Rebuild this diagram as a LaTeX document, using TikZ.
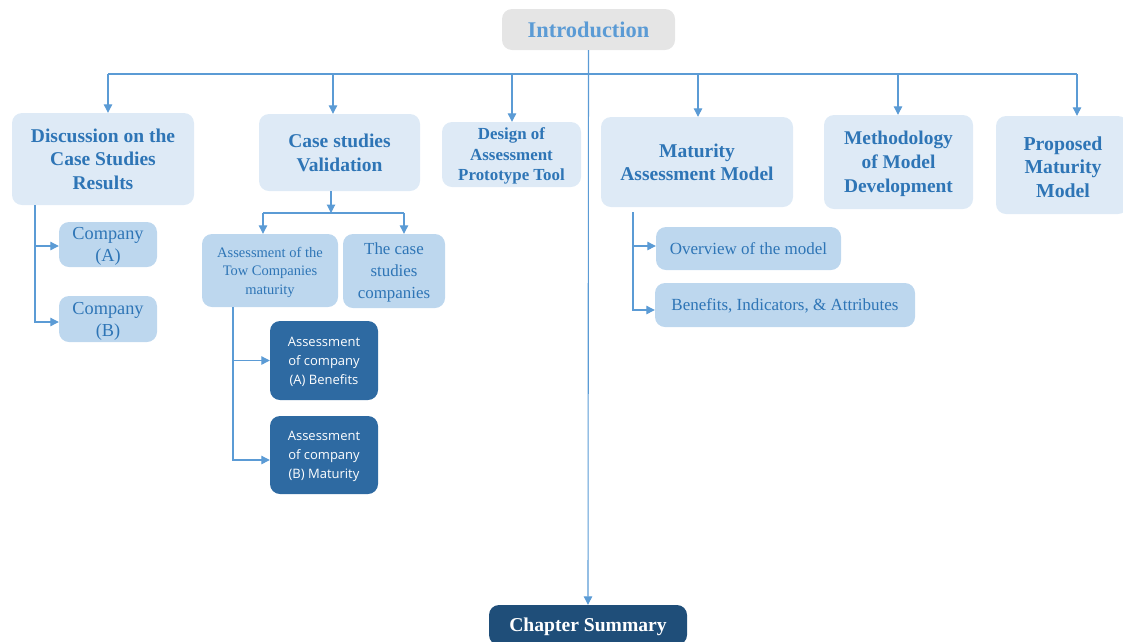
\documentclass[tikz,border=0pt]{standalone}
\usepackage{fontspec}
\setmainfont{Liberation Serif}
\newfontfamily\uisans{Open Sans}
\usetikzlibrary{arrows.meta,calc}

\definecolor{linkblue}{HTML}{5B9BD5}
\definecolor{headtext}{HTML}{2E75B6}
\definecolor{paleblue}{HTML}{DEEAF6}
\definecolor{midblue}{HTML}{BDD7EE}
\definecolor{deepblue}{HTML}{2E6AA2}
\definecolor{navy}{HTML}{1F4E79}
\definecolor{softgray}{HTML}{E5E5E5}

\tikzset{
  box/.style={rounded corners=10pt, inner sep=0pt, align=center, anchor=center, text depth=-2pt},
  topbox/.style={box, fill=paleblue, text=headtext, font=\bfseries\fontsize{19.5}{23.5}\selectfont},
  subbox/.style={box, fill=midblue, text=headtext, font=\fontsize{18.3}{22}\selectfont},
  darkbox/.style={box, fill=deepblue, text=white, font=\uisans\fontsize{13}{19}\selectfont},
  link/.style={draw=linkblue, line width=1.1pt},
  arr/.style={link, -{Triangle[length=8.5pt,width=8.5pt]}},
}

\begin{document}
\begin{tikzpicture}[x=1pt,y=-1pt]
\useasboundingbox (0,0) rectangle (1123,641);
\clip (0,0) rectangle (1123,641);

% top of the tree
\node[box, text depth=0pt, fill=softgray, text=linkblue, minimum width=173pt, minimum height=41pt,
      font=\bfseries\fontsize{22.4}{24}\selectfont] (intro) at (588.5,29.5) {Introduction};

% first level
\node[topbox, minimum width=182pt, minimum height=92pt] (disc) at (103,159)
  {Discussion on the\\Case Studies\\Results};
\node[topbox, minimum width=161pt, minimum height=77pt] (case) at (339.5,152.5)
  {Case studies\\Validation};
\node[topbox, minimum width=139pt, minimum height=65pt, font=\bfseries\fontsize{16.9}{20.5}\selectfont]
  (design) at (511.5,154.5) {Design of\\Assessment\\Prototype Tool};
\node[topbox, minimum width=192pt, minimum height=90pt] (mat) at (697,162)
  {Maturity\\Assessment Model};
\node[topbox, minimum width=149pt, minimum height=94pt, font=\bfseries\fontsize{19.4}{24}\selectfont]
  (meth) at (898.5,162) {Methodology\\of Model\\Development};
\node[topbox, minimum width=132pt, minimum height=98pt] (prop) at (1062,165) {};
\node[text=headtext, font=\bfseries\fontsize{19.8}{23.5}\selectfont, align=center] (proptxt) at (1063,167)
  {Proposed\\Maturity\\Model};

% bottom
\node[box, fill=navy, minimum width=198pt, minimum height=40pt] (summ) at (588,625) {};
\node[text=white, font=\bfseries\fontsize{19.6}{20}\selectfont] (summtxt) at (588,626.5) {Chapter Summary};

% second level
\node[subbox, minimum width=98pt, minimum height=45pt] (compA) at (108,244.5) {Company\\(A)};
\node[subbox, minimum width=98pt, minimum height=46pt] (compB) at (108,319) {Company\\(B)};

\node[subbox, minimum width=136pt, minimum height=73pt, font=\fontsize{14.5}{18.5}\selectfont]
  (tow) at (270,270.5) {Assessment of the\\Tow Companies\\maturity};
\node[subbox, minimum width=102pt, minimum height=74pt, font=\fontsize{16.9}{22}\selectfont]
  (casecomp) at (394,271) {The case\\studies\\companies};

\node[darkbox, text depth=0pt, minimum width=108pt, minimum height=79pt] (assA) at (324,360.5)
  {Assessment\\of company\\(A) Benefits};
\node[darkbox, text depth=0pt, minimum width=108pt, minimum height=78pt] (assB) at (324,455)
  {Assessment\\of company\\(B) Maturity};

\node[subbox, text depth=0pt, minimum width=185pt, minimum height=43pt, font=\fontsize{17}{20}\selectfont]
  (over) at (748.5,248.5) {Overview of the model};
\node[subbox, text depth=0pt, minimum width=260pt, minimum height=44pt, font=\fontsize{17}{20}\selectfont]
  (ben) at (785,305) {Benefits, Indicators, \& Attributes};

% main spine and bus
\draw[arr] (intro.south) -- (summ.north);
\coordinate (busL) at (108,74);
\coordinate (busR) at (1077,74);
\draw[link] (busL) -- (busR);
\coordinate (t1) at (108,74);
\coordinate (t2) at (333,74);
\coordinate (t3) at (512,74);
\coordinate (t4) at (698,74);
\coordinate (t5) at (898,74);
\coordinate (t6) at (1077,74);
\draw[arr] (t1) -- (t1 |- disc.north);
\draw[arr] (t2) -- (t2 |- case.north);
\draw[arr] (t3) -- (t3 |- design.north);
\draw[arr] (t4) -- (t4 |- mat.north);
\draw[arr] (t5) -- (t5 |- meth.north);
\draw[arr] (t6) -- (t6 |- prop.north);

% discussion branch
\coordinate (dv) at (35,205);
\draw[arr] (dv) |- ($(compA.west)+(0,1.5)$);
\draw[arr] (dv) |- ($(compB.west)+(0,3)$);

% case studies branch
\coordinate (cv) at (331,191);
\coordinate (cbus) at (331,213);
\coordinate (cl) at (263,213);
\coordinate (cr) at (404,213);
\draw[arr] (cv) -- (cbus);
\draw[link] (cl) -- (cr);
\draw[arr] (cl) -- (cl |- tow.north);
\draw[arr] (cr) -- (cr |- casecomp.north);

\coordinate (tv) at (233,307);
\draw[arr] (tv) |- (assA.west);
\draw[arr] (tv) |- ($(assB.west)+(0,5)$);

% maturity model branch
\coordinate (mv) at (633,212);
\draw[arr] (mv) |- ($(over.west)+(0,-2.5)$);
\draw[arr] (mv) |- ($(ben.west)+(0,5)$);
\end{tikzpicture}
\end{document}
